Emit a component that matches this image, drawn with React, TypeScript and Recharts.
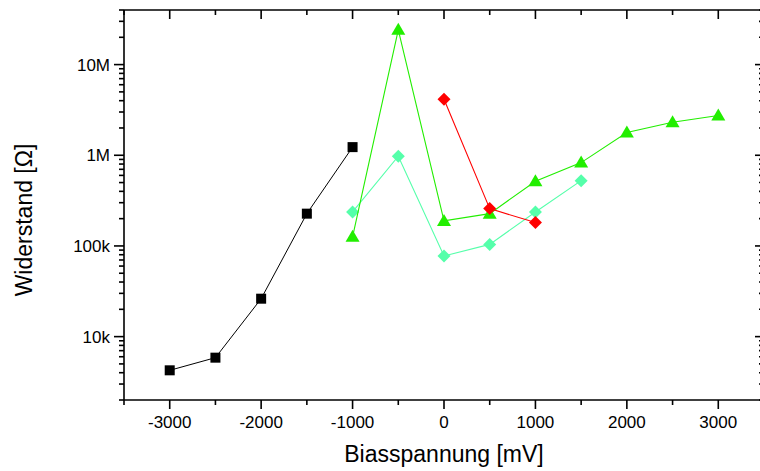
import React from 'react';
import { ScatterChart, Scatter, XAxis, YAxis, Label } from 'recharts';

// ---- data ----
const blackX = [-3000, -2500, -2000, -1500, -1000];
const blackY = [4250, 5860, 26200, 227000, 1230000];

const greenX = [-1000, -500, 0, 500, 1000, 1500, 2000, 2500, 3000];
const greenY = [126000, 24200000, 189000, 227000, 517000, 830000, 1780000, 2310000, 2740000];

const cyanX = [-1000, -500, 0, 500, 1000, 1500];
const cyanY = [237000, 975000, 77600, 104000, 237000, 525000];

const redX = [0, 500, 1000];
const redY = [4140000, 258000, 181000];

// ---- ticks ----
const xMajorTicks = [-3000, -2000, -1000, 0, 1000, 2000, 3000];
const xAllTicks = [-3500, -3000, -2500, -2000, -1500, -1000, -500, 0, 500, 1000, 1500, 2000, 2500, 3000, 3500];
const yMajorTicks = [10000, 100000, 1000000, 10000000];
const yTickLabels = ['10k', '100k', '1M', '10M'];
const yDecades = [1000, 10000, 100000, 1000000, 10000000];
const yMultipliers = [1, 2, 3, 4, 5, 6, 7, 8, 9];
const yAllTicks = yDecades
  .flatMap((d) => yMultipliers.map((m) => m * d))
  .filter((v) => v >= 2000 && v <= 40000000);

const X_DOMAIN: [number, number] = [-3500, 3500];
const Y_DOMAIN: [number, number] = [2000, 40000000];

const zip = (xs: number[], ys: number[]) => xs.map((x, i) => ({ x, y: ys[i] }));
const blackData = zip(blackX, blackY);
const greenData = zip(greenX, greenY);
const cyanData = zip(cyanX, cyanY);
const redData = zip(redX, redY);

const FONT = '"Liberation Sans", Arial, Helvetica, sans-serif';
const AXIS_W = 1.6;

const BLACK = '#000000';
const GREEN = '#22ee00';
const CYAN = '#55ffaa';
const RED = '#ff0000';

// ---- markers ----
const Square = (props: any) => {
  const { cx, cy } = props;
  if (cx == null || cy == null) return null;
  return <rect x={cx - 5} y={cy - 5} width={10} height={10} fill={BLACK} />;
};
const makeTriangle = (color: string) => (props: any) => {
  const { cx, cy } = props;
  if (cx == null || cy == null) return null;
  return <polygon points={`${cx},${cy - 7} ${cx - 7},${cy + 5} ${cx + 7},${cy + 5}`} fill={color} />;
};
const makeDiamond = (color: string) => (props: any) => {
  const { cx, cy } = props;
  if (cx == null || cy == null) return null;
  return <polygon points={`${cx},${cy - 6.5} ${cx + 6.5},${cy} ${cx},${cy + 6.5} ${cx - 6.5},${cy}`} fill={color} />;
};
const GreenTriangle = makeTriangle(GREEN);
const CyanDiamond = makeDiamond(CYAN);
const RedDiamond = makeDiamond(RED);

// ---- tick renderers ----
const BottomTick = (props: any) => {
  const { x, y, payload } = props;
  const major = xMajorTicks.includes(payload.value);
  return (
    <g>
      <line x1={x} x2={x} y1={y} y2={y + (major ? 9 : 5)} stroke="#000" strokeWidth={AXIS_W} />
      {major && (
        <text x={x} y={y + 28} textAnchor="middle" fontFamily={FONT} fontSize={17} fill="#000">
          {payload.value}
        </text>
      )}
    </g>
  );
};
const TopTick = (props: any) => {
  const { x, y, payload } = props;
  const major = xMajorTicks.includes(payload.value);
  return <line x1={x} x2={x} y1={y} y2={y + (major ? 9 : 5)} stroke="#000" strokeWidth={AXIS_W} />;
};
const LeftTick = (props: any) => {
  const { x, y, payload } = props;
  const idx = yMajorTicks.indexOf(payload.value);
  const major = idx >= 0;
  return (
    <g>
      <line x1={x - (major ? 10 : 5)} x2={x} y1={y} y2={y} stroke="#000" strokeWidth={AXIS_W} />
      {major && (
        <text x={x - 14} y={y} dy={6} textAnchor="end" fontFamily={FONT} fontSize={17} fill="#000">
          {yTickLabels[idx]}
        </text>
      )}
    </g>
  );
};
const RightTick = (props: any) => {
  const { x, y, payload } = props;
  const major = yMajorTicks.includes(payload.value);
  return <line x1={x - (major ? 9 : 5)} x2={x} y1={y} y2={y} stroke="#000" strokeWidth={AXIS_W} />;
};

const XTitle = (props: any) => {
  const vb = props.viewBox || {};
  return (
    <text x={vb.x + vb.width / 2} y={vb.y + 62} textAnchor="middle" fontFamily={FONT} fontSize={23} fill="#000">
      Biasspannung [mV]
    </text>
  );
};
const YTitle = (props: any) => {
  const vb = props.viewBox || {};
  const cx = 32;
  const cy = vb.y + vb.height / 2 + 15;
  return (
    <text x={cx} y={cy} transform={`rotate(-90 ${cx} ${cy})`} textAnchor="middle" fontFamily={FONT} fontSize={23} fill="#000">
      Widerstand [Ω]
    </text>
  );
};

export default function App() {
  return (
    <div style={{ position: 'absolute', left: 0, top: 0, width: 760, height: 471, overflow: 'hidden', background: '#fff' }}>
      <ScatterChart width={780} height={471} margin={{ top: 0, right: 0, bottom: 0, left: 0 }}>
        <XAxis
          xAxisId="bottom"
          dataKey="x"
          type="number"
          orientation="bottom"
          domain={X_DOMAIN}
          allowDataOverflow
          ticks={xAllTicks}
          interval={0}
          height={71}
          tickSize={0}
          tickMargin={0}
          tickLine={false}
          tick={<BottomTick />}
          axisLine={{ stroke: '#000', strokeWidth: AXIS_W }}
        >
          <Label content={<XTitle />} />
        </XAxis>
        <XAxis
          xAxisId="top"
          dataKey="x"
          type="number"
          orientation="top"
          domain={X_DOMAIN}
          allowDataOverflow
          ticks={xAllTicks}
          interval={0}
          height={10}
          tickSize={0}
          tickMargin={0}
          tickLine={false}
          tick={<TopTick />}
          axisLine={{ stroke: '#000', strokeWidth: AXIS_W }}
        />
        <YAxis
          yAxisId="left"
          dataKey="y"
          type="number"
          scale="log"
          orientation="left"
          domain={Y_DOMAIN}
          allowDataOverflow
          ticks={yAllTicks}
          interval={0}
          width={124}
          tickSize={0}
          tickMargin={0}
          tickLine={false}
          tick={<LeftTick />}
          axisLine={{ stroke: '#000', strokeWidth: AXIS_W }}
        >
          <Label content={<YTitle />} />
        </YAxis>
        <YAxis
          yAxisId="right"
          dataKey="y"
          type="number"
          scale="log"
          orientation="right"
          domain={Y_DOMAIN}
          allowDataOverflow
          ticks={yAllTicks}
          interval={0}
          width={16}
          tickSize={0}
          tickMargin={0}
          tickLine={false}
          tick={<RightTick />}
          axisLine={{ stroke: '#000', strokeWidth: AXIS_W }}
        />
        <Scatter
          xAxisId="bottom"
          yAxisId="left"
          data={cyanData}
          line={{ stroke: CYAN, strokeWidth: 1.1 }}
          lineType="joint"
          shape={<CyanDiamond />}
          isAnimationActive={false}
        />
        <Scatter
          xAxisId="bottom"
          yAxisId="left"
          data={greenData}
          line={{ stroke: GREEN, strokeWidth: 1.1 }}
          lineType="joint"
          shape={<GreenTriangle />}
          isAnimationActive={false}
        />
        <Scatter
          xAxisId="bottom"
          yAxisId="left"
          data={blackData}
          line={{ stroke: BLACK, strokeWidth: 1 }}
          lineType="joint"
          shape={<Square />}
          isAnimationActive={false}
        />
        <Scatter
          xAxisId="bottom"
          yAxisId="left"
          data={redData}
          line={{ stroke: RED, strokeWidth: 1.1 }}
          lineType="joint"
          shape={<RedDiamond />}
          isAnimationActive={false}
        />
      </ScatterChart>
    </div>
  );
}
